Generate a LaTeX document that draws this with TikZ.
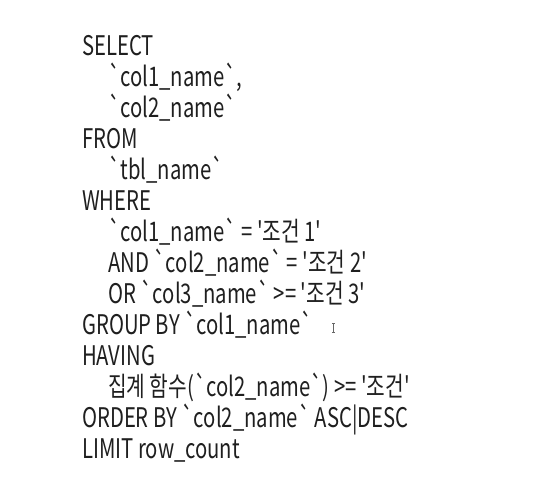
\documentclass[tikz,border=0pt]{standalone}
\usepackage{fontspec}
\newfontfamily\sqlfont[FakeStretch=0.75]{Noto Sans CJK KR}
\newcommand{\bt}{\symbol{96}}
\newcommand{\sq}{\symbol{39}}
\begin{document}
\begin{tikzpicture}[x=1pt,y=-1pt,
  sqlline/.style={anchor=base west, inner sep=0pt, font=\sqlfont\fontsize{27}{27}\selectfont, text=black!88}]
\useasboundingbox (0,0) rectangle (559,498);
\fill[white] (0,0) rectangle (559,498);
\node[sqlline] (l1)  at (82,55)  {SELECT};
\node[sqlline] (l2)  at (108,86) {\bt col1\_name\bt,};
\node[sqlline] (l3)  at (108,117) {\bt col2\_name\bt};
\node[sqlline] (l4)  at (82,148) {FROM};
\node[sqlline] (l5)  at (108,179) {\bt tbl\_name\bt};
\node[sqlline] (l6)  at (82,210) {WHERE};
\node[sqlline] (l7)  at (108,241) {\bt col1\_name\bt{} = \sq 조건 1\sq};
\node[sqlline] (l8)  at (108,272) {AND \bt col2\_name\bt{} = \sq 조건 2\sq};
\node[sqlline] (l9)  at (108,303) {OR \bt col3\_name\bt{} >= \sq 조건 3\sq};
\node[sqlline] (l10) at (82,334) {GROUP BY \bt col1\_name\bt};
\node[sqlline] (l11) at (82,365) {HAVING};
\node[sqlline] (l12) at (108,396) {집계 함수(\bt col2\_name\bt) >= \sq 조건\sq};
\node[sqlline] (l13) at (82,427) {ORDER BY \bt col2\_name\bt{} ASC|DESC};
\node[sqlline] (l14) at (82,458) {LIMIT row\_count};
% I-beam cursor
\draw[black!60, line width=0.8pt] (332,323) -- (335,323) (333.5,323) -- (333.5,332) (332,332) -- (335,332);
\end{tikzpicture}
\end{document}
